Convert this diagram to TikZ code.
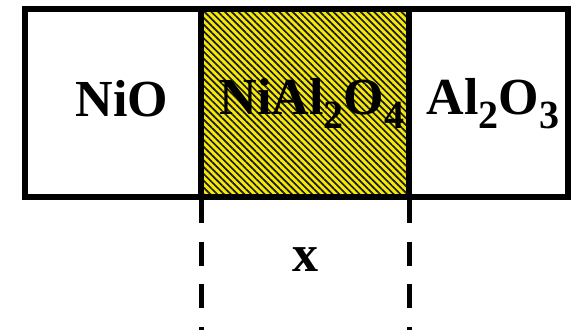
\documentclass[tikz,border=0pt]{standalone}
\usepackage{fontspec}
\setmainfont{Liberation Serif}[BoldFont={Liberation Serif Bold}]
\usetikzlibrary{patterns.meta}
\newcommand{\chemsub}[1]{\raisebox{-13pt}{\fontsize{40}{40}\selectfont\bfseries #1}}
\tikzset{
  boxline/.style={line width=5.5pt},
  lbl/.style={font=\fontsize{52}{52}\selectfont\bfseries, inner sep=0pt, anchor=base},
  dashline/.style={draw=black, line width=5pt, dash pattern=on 24pt off 18.5pt},
}
\begin{document}
\begin{tikzpicture}[x=1pt,y=1pt]
\fill[white] (0,0) rectangle (573,330);
\useasboundingbox (0,0) rectangle (573,330);
% middle hatched region
\fill[yellow!90!black!60!white] (201,133) rectangle (409,321);
\fill[yellow!95!black] (201,133) rectangle (409,321);
\fill[pattern={Lines[angle=-45,distance=4.8pt,line width=1.7pt]}, pattern color=black!90] (201,133) rectangle (409,321);
% outer box and dividers
\draw[boxline] (25,133) rectangle (568,321);
\draw[boxline] (201,133) -- (201,321);
\draw[boxline] (409,133) -- (409,321);
% dashed lines
\coordinate (d1t) at (201,131);
\coordinate (d1b) at (201,0);
\coordinate (d2t) at (409,131);
\coordinate (d2b) at (409,0);
\path[dashline] (d1t) -- (d1b);
\path[dashline] (d2t) -- (d2b);
% labels
\node[lbl] (nio) at (122,213) {NiO};
\node[lbl] (spinel) at (312,215) {NiAl\chemsub{2}O\chemsub{4}};
\node[lbl] (alo) at (493,215) {Al\chemsub{2}O\chemsub{3}};
\node[lbl] (xlab) at (305,59) {x};
\end{tikzpicture}
\end{document}
